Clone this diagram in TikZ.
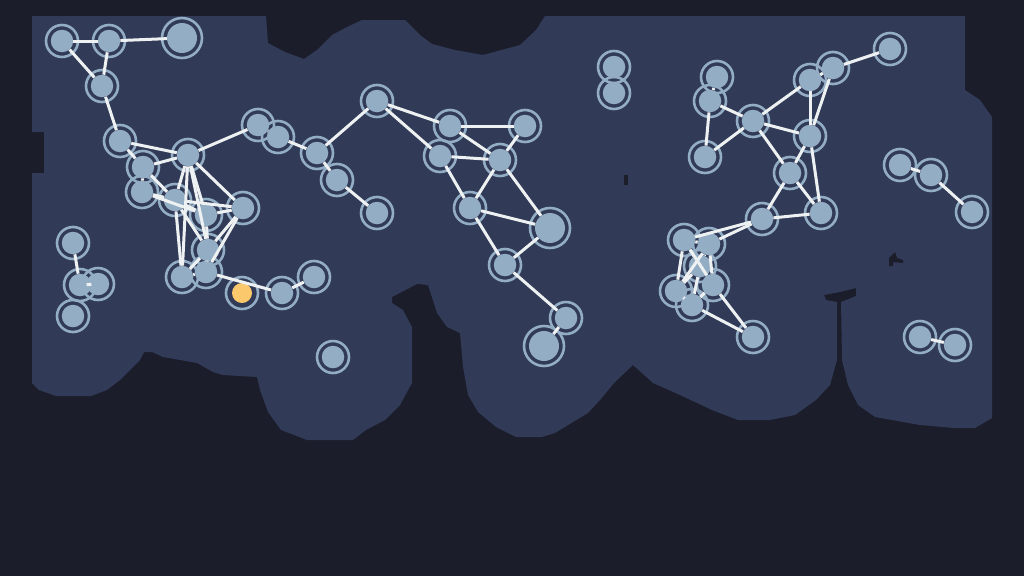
\documentclass[tikz,border=0pt]{standalone}
\definecolor{bgdark}{HTML}{1C1D2B}
\definecolor{region}{HTML}{313A57}
\definecolor{nodeblue}{HTML}{93ADC4}
\definecolor{edgewhite}{HTML}{EEF1F2}
\definecolor{gold}{HTML}{FCC86C}
\begin{document}
\begin{tikzpicture}[x=1pt,y=-1pt,
  nd/.style={circle,fill=nodeblue,inner sep=0pt,minimum size=22.5pt},
  ndbig/.style={circle,fill=nodeblue,inner sep=0pt,minimum size=30pt},
  ndgold/.style={circle,fill=gold,inner sep=0pt,minimum size=20pt},
  ringst/.style={draw=nodeblue,line width=2.6pt},
  edge/.style={draw=edgewhite,line width=3pt}]
\useasboundingbox (0,0) rectangle (1024,576);
\fill[bgdark] (0,0) rectangle (1024,576);
% region
\fill[region] (32,16) -- (266,16) -- (268,43) -- (285,52) -- (304,59) -- (317,50) -- (332,35) -- (347,27) -- (362,20) -- (405,20) -- (420,35) -- (432,44) -- (455,50) -- (483,55) -- (520,45) -- (536,30) -- (545,16)
 -- (965,16) -- (965,90) -- (980,100) -- (992,117) -- (992,418) -- (975,428) -- (954,428) -- (920,425) -- (875,417) -- (858,405) -- (848,385) -- (842,360) -- (841,302) -- (856,296) -- (856,288) -- (840,292) -- (824,295) -- (826,300) -- (837,302) -- (837,360) -- (830,385) -- (816,400) -- (795,415) -- (770,420) -- (738,420) -- (712,410) -- (680,395) -- (653,383) -- (633,365) -- (614,383) -- (600,400) -- (588,413) -- (555,433) -- (542,437) -- (516,437) -- (496,427) -- (478,412) -- (468,395) -- (463,367) -- (460,333) -- (447,327) -- (437,313) -- (428,285) -- (417,284) -- (392,297) -- (392,303) -- (403,310) -- (412,327) -- (412,383) -- (400,405) -- (385,420) -- (366,430) -- (353,440) -- (307,440) -- (281,430) -- (268,412) -- (260,390) -- (257,377) -- (223,375) -- (213,372) -- (197,363) -- (163,357) -- (152,352) -- (144,352) -- (140,360) -- (130,370) -- (120,380) -- (107,390) -- (91,396) -- (56,396) -- (39,390) -- (32,383) -- (32,173) -- (44,173) -- (44,132) -- (32,132) -- cycle;
\fill[bgdark] (624,175) rectangle (628,185);
\fill[bgdark] (889,258) -- (895,252) -- (897,258) -- (903,260) -- (903,263) -- (893,262) -- (893,266) -- (889,266) -- cycle;
% nodes
\foreach \n/\x/\y in {A1/62/41, A2/109/41, A4/102/86, A5/120/141,
  B1/143/167, B2/188/155, B3/142/192, B8/175/200, B4/206/215, B5/243/208, B9/208/250, B6/182/277, B7/206/272,
  D1/282/293, D2/314/277, C1/258/125, C2/278/137, C3/317/153, C4/337/180, C5/377/213, G1/377/101,
  E1/73/243, E2/80/285, E3/98/284, E4/73/316, F/333/357,
  G2/450/126, G3/525/126, G4/440/156, G5/500/160, G6/470/208, G8/505/265, G9/566/318,
  H1/614/67, H2/614/93,
  I1/717/77, I2/710/101, I3/705/157, I4/753/121, I5/810/80, I6/833/68, I7/890/49, I8/810/136, I9/790/173, I10/821/213, I11/762/219, I16/753/337,
  L1/684/240, L2/709/244, L6/700/266, L3/676/291, L4/713/285, L5/692/305,
  J1/900/165, J2/931/175, J3/972/212, K1/920/337, K2/955/345}
  \node[nd] (\n) at (\x,\y) {};
\foreach \n/\x/\y in {A3/182/38, G7/550/228, G10/544/346}
  \node[ndbig] (\n) at (\x,\y) {};
\node[ndgold] (O) at (242,293) {};
% rings
\foreach \n in {A1,A2,A4,A5,B1,B2,B3,B8,B4,B5,B9,B6,B7,D1,D2,C1,C2,C3,C4,C5,G1,E1,E2,E3,E4,F,G2,G3,G4,G5,G6,G8,G9,H1,H2,I1,I2,I3,I4,I5,I6,I7,I8,I9,I10,I11,I16,L1,L2,L6,L3,L4,L5,J1,J2,J3,K1,K2,O}
  \draw[ringst] (\n.center) circle (16pt);
\foreach \n in {A3,G7,G10}
  \draw[ringst] (\n.center) circle (20pt);
% edges
\foreach \a/\b in {A1/A2, A2/A3, A1/A4, A2/A4, A4/A5,
  A5/B2, A5/B1, B1/B2, B2/C1, B2/B5, B2/B8, B2/B9, B1/B8, B3/B8, B3/B4, B8/B4, B4/B5, B4/B9, B5/B9, B5/B7, B8/B6, B9/B6, B9/B7, B6/B7, B2/B6, B7/D1, D1/D2,
  B8/B9, B1/B3, B2/B4, B5/B8,
  C1/C2, C2/C3, C3/C4, C4/C5, C3/G1,
  G1/G2, G1/G4, G2/G3, G2/G5, G3/G5, G4/G5, G4/G6, G5/G6, G5/G7, G6/G7, G6/G8, G7/G8, G8/G9, G9/G10,
  I7/I6, I6/I5, I5/I8, I6/I8, I5/I4, I1/I2, I2/I4, I2/I3, I3/I4, I4/I8, I4/I9, I8/I9, I8/I10, I9/I10, I9/I11, I10/I11,
  I11/L1, I11/L2, L1/L2, L1/L6, L2/L6, L1/L3, L3/L6, L4/L6, L5/L6, L3/L5, L4/L5, L2/L4, L4/I16, L5/I16, L1/L4, L2/L3,
  E1/E2, E2/E3, J1/J2, J2/J3, K1/K2}
  \draw[edge] (\a) -- (\b);
\end{tikzpicture}
\end{document}
